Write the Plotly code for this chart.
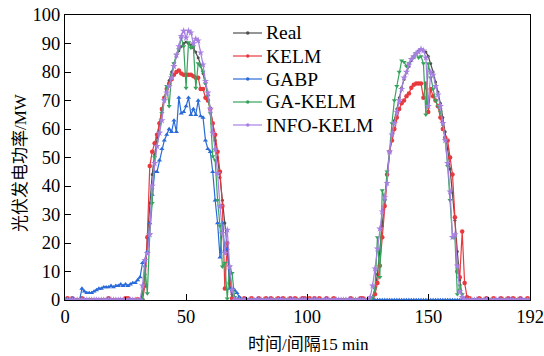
import plotly.graph_objects as go

t = list(range(193))

real = [
    0, 0, 0, 0, 0, 0, 0, 0, 0, 0,
    0, 0, 0, 0, 0, 0, 0, 0, 0, 0,
    0, 0, 0, 0, 0, 0, 0, 0, 0, 0,
    0, 0, 2, 9, 22, 34, 44, 51, 57, 62,
    66.5, 70.5, 74, 77, 80, 83, 85.5, 87.5, 89, 90,
    90.5, 90, 89.5, 88.5, 87, 85, 82.5, 79.5, 76, 72,
    67.5, 62, 56, 50, 43, 35, 27, 18, 9, 2,
    0, 0, 0, 0, 0, 0, 0, 0, 0, 0,
    0, 0, 0, 0, 0, 0, 0, 0, 0, 0,
    0, 0, 0, 0, 0, 0, 0, 0, 0, 0,
    0, 0, 0, 0, 0, 0, 0, 0, 0, 0,
    0, 0, 0, 0, 0, 0, 0, 0, 0, 0,
    0, 0, 0, 0, 0, 0, 0, 1, 4, 9,
    17, 26, 35, 44, 52, 58, 63, 67, 71, 74.5,
    77.5, 80, 82, 84, 85.5, 86.5, 87.5, 88, 87.5, 87,
    85.5, 83, 80, 76.5, 73, 69, 64, 59, 53, 46,
    38, 28, 17, 7, 1, 0, 0, 0, 0, 0,
    0, 0, 0, 0, 0, 0, 0, 0, 0, 0,
    0, 0, 0, 0, 0, 0, 0, 0, 0, 0,
    0, 0, 0,
]

kelm = [
    0, 0.6, 0, 0.6, 0, 0, 0, 0.6, 0, 0,
    0, 0, 0, 0, 0, 0, 0, 0, 0.6, 0,
    0, 0, 0, 0, 0, 0.6, 0.6, 0, 0, 0,
    0.3, 0, 0, 5, 22, 47, 52, 55, 58, 62,
    67, 71, 74, 76, 77.5, 79, 80, 80.5, 79.5, 79,
    79, 79, 79, 78.5, 78, 78, 74, 74, 71, 70,
    67, 62, 58, 52, 45, 33, 4, 20, 6, 0.6,
    0, 0, 0.6, 0, 0.6, 0, 0, 0.6, 0, 0,
    0.6, 0, 0, 0.6, 0, 0.6, 0, 0, 0.6, 0,
    0.6, 0, 0, 0.6, 0, 0.6, 0, 0, 0.6, 0.6,
    0, 0.6, 0, 0.6, 0, 0.6, 0, 0, 0.6, 0,
    0, 0.6, 0, 0, 0, 0, 0, 0, 0.6, 0,
    0, 0, 0.6, 0.6, 0, 0, 0, 0.5, 2, 6,
    12, 22, 33, 44, 52, 56, 60, 64, 67, 69,
    70, 71.5, 72.5, 74.5, 75.5, 76, 76, 76, 71, 76,
    66, 74, 71.5, 70, 68, 64, 60, 57, 56, 50,
    44, 29, 10, 8, 24, 6, 1, 0.6, 0, 0,
    0, 0.6, 0, 0, 0.6, 0, 0, 0.6, 0, 0,
    0.6, 0, 0, 0.6, 0, 0.6, 0, 0, 0.6, 0,
    0, 0.6, 0,
]

gabp = [
    0, 0.5, 0, 0.5, 0, 0, 0, 4, 3, 2.5,
    2.5, 2.5, 3, 3.5, 4, 4, 4.5, 4.5, 4.5, 5,
    4.5, 5, 5, 5.5, 5, 5.5, 5, 5.5, 6, 6,
    7, 8, 13, 14, 17, 27, 37, 45, 45, 49,
    53, 56, 58, 60, 59, 63, 59, 71, 65.5, 66,
    68, 71, 65, 67, 65, 70, 64.5, 64, 56, 53,
    52, 45, 35, 27, 15, 27, 17.5, 18, 4, 3.5,
    3.5, 2.5, 1, 0, 0, 0, 0, 0, 0, 0,
    0, 0, 0, 0, 0, 0, 0, 0, 0, 0,
    0, 0, 0, 0, 0, 0, 0, 0, 0, 0,
    0, 0, 0, 0, 0, 0, 0, 0, 0, 0,
    0, 0, 0, 0, 0, 0, 0, 0, 0, 0,
    0, 0, 0, 0, 0, 0, 0, 0, 0, 0,
    0, 0, 0, 0, 0, 0, 0, 0, 0, 0,
    0, 0, 0, 0, 0, 0, 0, 0, 0, 0,
    0, 0, 0, 0, 0, 0, 0, 0, 0, 0,
    0, 0, 0, 0, 0, 0, 0, 0, 0, 0,
    0, 0, 0, 0, 0, 0, 0, 0, 0, 0,
    0, 0, 0, 0, 0, 0, 0, 0, 0, 0,
    0, 0, 0,
]

ga_kelm = [
    0, 0, 0, 0, 0, 0, 0, 0, 0, 0,
    0, 0, 0, 0, 0, 0, 0, 0, 0, 0,
    0, 0, 0, 0, 0, 0, 0, 0, 0, 0,
    0, 0, 0, 11.7, 2.3, 23, 34, 50, 54, 58.6,
    65.6, 70, 75, 68, 79, 83, 86, 88, 92, 89,
    74.4, 90.4, 88.5, 89, 74.4, 83, 82, 80, 76, 71.5,
    65.5, 50.4, 49, 35, 26, 11.7, 13, 0.5, 11.7, 9.4,
    1, 0, 0, 0, 0, 0, 0, 0, 0, 0,
    0, 0, 0, 0, 0, 0, 0, 0, 0, 0,
    0, 0, 0, 0, 0, 0, 0, 0, 0, 0,
    0, 0, 0, 0, 0, 0, 0, 0, 0, 0,
    0, 0, 0, 0, 0, 0, 0, 0, 0, 0,
    0, 0, 0, 0, 0, 0, 0, 1, 4, 22,
    8, 38.5, 35, 45, 52, 62, 70, 75, 80, 84,
    83.5, 82, 83, 84.5, 85, 86.5, 85, 85.5, 83, 65,
    83, 78, 74, 70, 68, 66, 62, 56, 47, 35,
    22, 22, 2, 5, 2, 0, 0, 0, 0, 0,
    0, 0, 0, 0, 0, 0, 0, 0, 0, 0,
    0, 0, 0, 0, 0, 0, 0, 0, 0, 0,
    0, 0, 0,
]

info_kelm = [
    0, 0, 0, 0, 0, 0, 0, 0, 0, 0,
    0, 0, 0, 0, 0, 0, 0, 0, 0, 0,
    0, 0, 0, 0, 0, 0, 0, 0, 0, 0,
    0, 0, 5, 14, 16.4, 23, 40, 48, 54, 58.6,
    63, 70, 72.7, 75, 78, 82, 86, 89, 92.6, 94.4,
    92, 94.4, 93.8, 90, 91.6, 91, 86.8, 82.6, 76.8, 72.7,
    67, 58.6, 52.8, 44.5, 32.8, 23.4, 16.4, 24.6, 11.7, 3.5,
    0, 0, 0, 0, 0, 0, 0, 0, 0, 0,
    0, 0, 0, 0, 0, 0, 0, 0, 0, 0,
    0, 0, 0, 0, 0, 0, 0, 0, 0, 0,
    0, 0, 0, 0, 0, 0, 0, 0, 0, 0,
    0, 0, 0, 0, 0, 0, 0, 0, 0, 0,
    0, 0, 0, 0, 0, 0, 1, 5, 11, 18,
    25, 31, 36, 41, 52, 58, 62, 66, 70, 74,
    78, 80, 82.5, 84.5, 85.5, 86.5, 87, 88, 87.5, 85,
    68, 80, 79, 75, 72, 68, 62, 56, 48, 38,
    22, 23, 12, 3, 1, 0, 0, 0, 0, 0,
    0, 0, 0, 0, 0, 0, 0, 0, 0, 0,
    0, 0, 0, 0, 0, 0, 0, 0, 0, 0,
    0, 0, 0,
]

names = ["Real", "KELM", "GABP", "GA-KELM", "INFO-KELM"]
colors = ["#505050", "#e8393f", "#2a6ad8", "#36a35c", "#a780e2"]
symbols = ["circle", "circle", "triangle-up", "triangle-down", "star"]
sizes = [3, 4.5, 4.5, 4.5, 5.5]
series = [real, kelm, gabp, ga_kelm, info_kelm]

x_tickvals = [0, 50, 100, 150, 192]
y_tickvals = [0, 10, 20, 30, 40, 50, 60, 70, 80, 90, 100]
x_title = "时间/间隔15 min"
y_title = "光伏发电功率/MW"

W, H = 544, 356
ML, MR, MT, MB = 65, 14, 15, 56
PW, PH = W - ML - MR, H - MT - MB

fig = go.Figure()
for name, col, sym, sz, ys in zip(names, colors, symbols, sizes, series):
    fig.add_trace(go.Scatter(
        x=t, y=ys, name=name, mode="lines+markers", showlegend=False,
        line=dict(color=col, width=1.2),
        marker=dict(color=col, symbol=sym, size=sz, line=dict(width=0)),
    ))

serif = "Liberation Serif, Times New Roman, Noto Sans CJK SC, serif"


def px_x(p):
    return (p - ML) / PW


def px_y(p):
    return (H - MB - p) / PH


shapes = []
annotations = []
row0, row_gap = 33, 23
for i, (name, col) in enumerate(zip(names, colors)):
    yy = px_y(row0 + i * row_gap)
    shapes.append(dict(type="line", xref="paper", yref="paper",
                       x0=px_x(233), x1=px_x(262), y0=yy, y1=yy,
                       line=dict(color=col, width=1.2)))
    shapes.append(dict(type="circle", xref="paper", yref="paper",
                       x0=px_x(246), x1=px_x(249.5),
                       y0=yy - 1.75 / PH, y1=yy + 1.75 / PH,
                       fillcolor=col, line=dict(width=0)))
    annotations.append(dict(text=name, xref="paper", yref="paper",
                            x=px_x(264), y=yy, xanchor="left", yanchor="middle",
                            showarrow=False,
                            font=dict(family=serif, size=19.5, color="black")))

# axis titles
annotations.append(dict(text=x_title, xref="paper", yref="paper",
                        x=px_x(308), y=px_y(344), xanchor="center", yanchor="middle",
                        showarrow=False, font=dict(family=serif, size=17, color="black")))
annotations.append(dict(text=y_title, xref="paper", yref="paper",
                        x=px_x(20), y=px_y(163), xanchor="center", yanchor="middle",
                        textangle=-90,
                        showarrow=False, font=dict(family=serif, size=17, color="black")))

fig.update_layout(
    width=W, height=H,
    margin=dict(l=ML, r=MR, t=MT, b=MB, autoexpand=False),
    paper_bgcolor="white", plot_bgcolor="white",
    font=dict(family=serif, size=18, color="black"),
    showlegend=False,
    shapes=shapes, annotations=annotations,
)
fig.update_xaxes(
    range=[0, 192], tickvals=x_tickvals, ticktext=[str(v) for v in x_tickvals],
    ticks="inside", ticklen=6, tickwidth=1, tickcolor="black",
    tickfont=dict(size=18.5, family=serif),
    minor=dict(tickvals=[25, 75, 125, 175], ticks="inside", ticklen=3, tickcolor="black"),
    showline=True, linecolor="black", linewidth=1.2, mirror=True,
    showgrid=False, zeroline=False, automargin=False,
    ticklabeloverflow="allow",
)
fig.update_yaxes(
    range=[0, 100], tickvals=y_tickvals,
    ticks="inside", ticklen=6, tickwidth=1, tickcolor="black",
    tickfont=dict(size=18.5, family=serif),
    showline=True, linecolor="black", linewidth=1.2, mirror=True,
    showgrid=False, zeroline=False, automargin=False,
    ticklabeloverflow="allow",
)

fig.write_html("out.html")
